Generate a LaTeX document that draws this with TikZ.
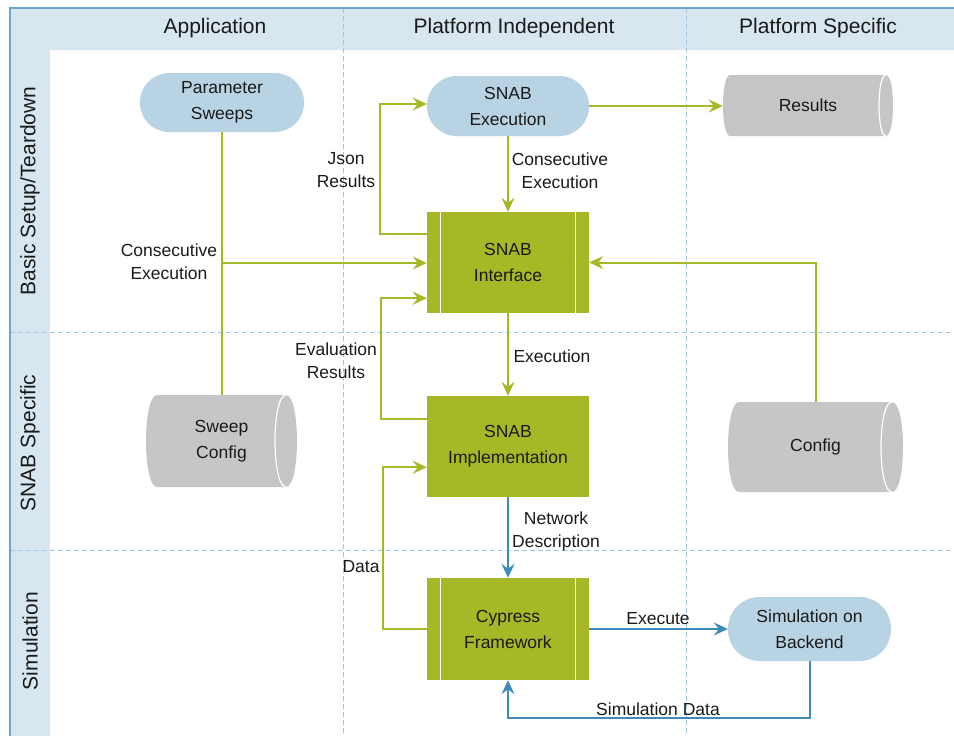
\documentclass[tikz,border=0pt]{standalone}
\usepackage{fontspec}
\setmainfont{Liberation Sans}
\usetikzlibrary{arrows.meta,calc}
\definecolor{hdr}{HTML}{D7E6EF}
\definecolor{hdrline}{HTML}{6FA3CC}
\definecolor{dashc}{HTML}{A3C8E0}
\definecolor{term}{HTML}{B8D3E3}
\definecolor{grn}{HTML}{A7B827}
\definecolor{cylgray}{HTML}{C6C6C6}
\definecolor{blu}{HTML}{3D8BBB}
\definecolor{txt}{HTML}{1A1A1A}
\tikzset{
  nodefont/.style={font=\fontsize{17.5}{26}\selectfont, text=txt},
  lblfont/.style={font=\fontsize{17.5}{23}\selectfont, text=txt, align=center, inner sep=0pt},
  hdrfont/.style={font=\fontsize{21}{25}\selectfont, text=txt, inner sep=0pt},
  terminal/.style={nodefont, fill=term, align=center, inner sep=0pt},
  procbox/.style={nodefont, fill=grn, align=center, inner sep=0pt, minimum width=162pt, minimum height=101pt},
  cylnodestyle/.style={nodefont, align=center, inner sep=0pt},
  tipstyle/.style={-{Stealth[length=14pt,width=13pt,inset=5pt]}},
  gconn/.style={draw=grn, line width=2pt},
  bconn/.style={draw=blu, line width=2pt},
  divline/.style={draw=dashc, line width=1pt, dash pattern=on 5pt off 3pt},
}
% name, L, R, T, B, rx, text
\newcommand\cylnode[7]{%
  \fill[cylgray] ({#2+#6},#4) -- ({#3-#6},#4)
     .. controls ({#3+#6/3},#4) and ({#3+#6/3},#5) .. ({#3-#6},#5)
     -- ({#2+#6},#5)
     .. controls ({#2-#6/3},#5) and ({#2-#6/3},#4) .. ({#2+#6},#4) -- cycle;
  \draw[white, line width=1.2pt] ({#3-#6},#4)
     .. controls ({#3-#6-4*#6/3},#4) and ({#3-#6-4*#6/3},#5) .. ({#3-#6},#5);
  \node[cylnodestyle, minimum width={(#3-#2)*1pt}, minimum height={(#5-#4)*1pt}]
     (#1) at ({(#2+#3)/2},{(#4+#5)/2}) {#7};%
}
\begin{document}
\begin{tikzpicture}[x=1pt,y=-1pt]
\useasboundingbox (0,0) rectangle (954,736);
% swimlane background
\fill[hdr] (10,8) rectangle (954,50);
\fill[hdr] (10,8) rectangle (50,736);
\draw[divline] (10,332) -- (954,332);
\draw[divline] (10,550) -- (954,550);
\draw[divline] (343,8) -- (343,736);
\draw[divline] (686,8) -- (686,736);
\draw[hdrline, line width=1.5pt] (954,8) -- (10,8) -- (10,736);
% headers
\node[hdrfont] (hApp) at (215,28) {Application};
\node[hdrfont] (hPI) at (514,28) {Platform Independent};
\node[hdrfont] (hPS) at (818,28) {Platform Specific};
\node[hdrfont, rotate=90] (rBasic) at (30,191) {Basic Setup/Teardown};
\node[hdrfont, rotate=90] (rSnab) at (30,443) {SNAB Specific};
\node[hdrfont, rotate=90] (rSim) at (30,641) {Simulation};
% nodes
\node[terminal, minimum width=164pt, minimum height=59pt, rounded corners=29pt] (ps) at (222,102.5) {Parameter\\Sweeps};
\node[terminal, minimum width=162pt, minimum height=60pt, rounded corners=29.5pt] (se) at (508,106) {SNAB\\Execution};
\node[terminal, minimum width=163pt, minimum height=64pt, rounded corners=31.5pt] (sb) at (809.5,629) {Simulation on\\Backend};
\cylnode{rs}{723}{893}{75}{136}{7}{Results}
\cylnode{sc}{146}{297}{395}{487}{11}{Sweep\\Config}
\cylnode{cfg}{728}{903}{402}{492}{11}{Config}
\node[procbox] (si) at (508,262.5) {SNAB\\Interface};
\node[procbox] (sm) at (508,446.5) {SNAB\\Implementation};
\node[procbox, minimum height=102pt] (cy) at (508,629) {Cypress\\Framework};
\foreach \n in {si,cy}{
  \draw[white, line width=1pt] ($(\n.north west)+(14,0)$) -- ($(\n.south west)+(14,0)$);
  \draw[white, line width=1pt] ($(\n.north east)+(-14,0)$) -- ($(\n.south east)+(-14,0)$);
}
% connectors (green)
\coordinate (j1) at (222,263);
\draw[gconn] (ps.south) -- (ps.south |- sc.north);
\draw[gconn, tipstyle] (j1) -- (j1 -| si.west);
\draw[gconn, tipstyle] ($(si.north west)+(0,22)$) -- ++(-47,0) |- ($(se.west)+(0,-2)$);
\draw[gconn, tipstyle] (se.east) -- (se.east -| rs.west);
\draw[gconn, tipstyle] (se.south) -- (si.north);
\draw[gconn, tipstyle] (cfg.north) |- (si.east);
\draw[gconn, tipstyle] ($(sm.north west)+(0,23)$) -- ++(-46,0) |- ($(si.south west)+(0,-15)$);
\draw[gconn, tipstyle] (si.south) -- (sm.north);
\draw[gconn, tipstyle] (cy.west) -- ++(-44,0) |- ($(sm.south west)+(0,-30)$);
% connectors (blue)
\draw[bconn, tipstyle] (sm.south) -- (cy.north);
\draw[bconn, tipstyle] (cy.east) -- (sb.west);
\coordinate (c11) at (809.5,718);
\draw[bconn, tipstyle] (sb.south) -- (c11) -| (cy.south);
% labels
\node[lblfont] (l1) at (169,262) {Consecutive\\Execution};
\node[lblfont] (l2) at (346,170) {Json\\Results};
\node[lblfont] (l3) at (560,171) {Consecutive\\Execution};
\node[lblfont] (l4) at (336,361) {Evaluation\\Results};
\node[lblfont] (l5) at (552,356) {Execution};
\node[lblfont] (l6) at (556,531) {Network\\Description};
\node[lblfont] (l7) at (361,567) {Data};
\node[lblfont] (l8) at (658,619) {Execute};
\node[lblfont] (l9) at (658,709) {Simulation Data};
\end{tikzpicture}
\end{document}
